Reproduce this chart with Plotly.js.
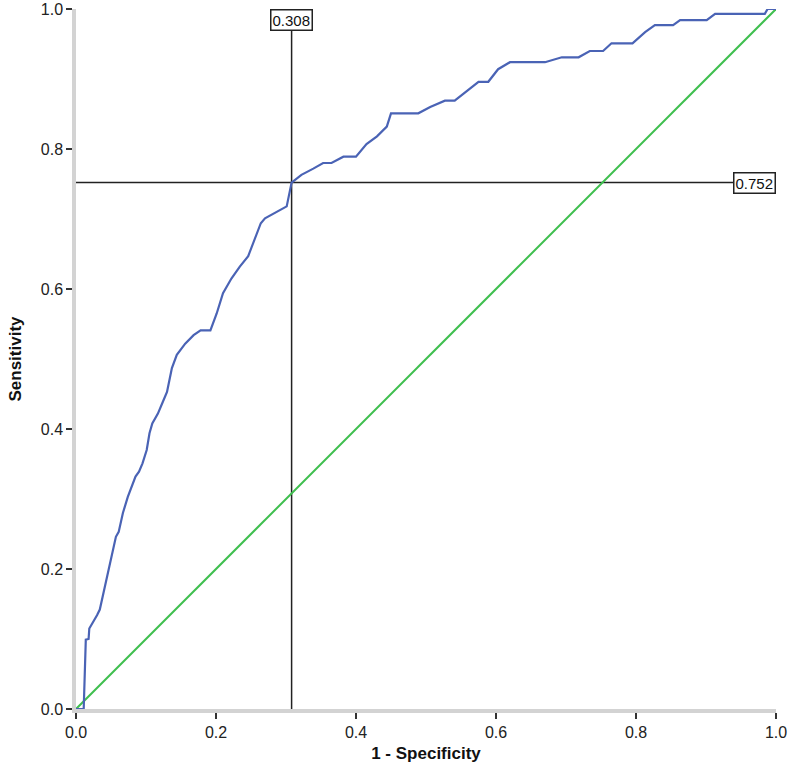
<!DOCTYPE html>
<html>
<head>
<meta charset="utf-8">
<script src="https://cdn.plot.ly/plotly-3.0.1.min.js"></script>
<style>
  html, body { margin: 0; padding: 0; background: #fff; }
  #chart { width: 788px; height: 772px; }
</style>
</head>
<body>
<div id="chart"></div>
<script>
// ROC curve
const fpr = [0, 0.011, 0.014, 0.018, 0.019, 0.024, 0.030, 0.034, 0.038, 0.043, 0.048, 0.052, 0.057,
  0.061, 0.067, 0.074, 0.079, 0.085, 0.090, 0.095, 0.101, 0.105, 0.109, 0.117, 0.125, 0.130,
  0.137, 0.144, 0.156, 0.168, 0.178, 0.192, 0.201, 0.210, 0.222, 0.234, 0.246, 0.253, 0.264,
  0.270, 0.284, 0.301, 0.308, 0.322, 0.339, 0.353, 0.365, 0.382, 0.400, 0.415, 0.430, 0.444,
  0.450, 0.489, 0.506, 0.527, 0.541, 0.560, 0.575, 0.589, 0.603, 0.620, 0.670, 0.694, 0.718,
  0.734, 0.753, 0.765, 0.795, 0.813, 0.827, 0.853, 0.863, 0.901, 0.913, 0.984, 0.988, 1.0];
const tpr = [0, 0, 0.099, 0.100, 0.115, 0.123, 0.134, 0.142, 0.160, 0.184, 0.208, 0.227, 0.246,
  0.253, 0.280, 0.303, 0.315, 0.332, 0.339, 0.351, 0.370, 0.394, 0.408, 0.422, 0.441, 0.453,
  0.487, 0.506, 0.522, 0.534, 0.541, 0.541, 0.565, 0.594, 0.615, 0.632, 0.647, 0.665, 0.694,
  0.701, 0.709, 0.718, 0.752, 0.763, 0.772, 0.780, 0.780, 0.789, 0.789, 0.807, 0.818, 0.832,
  0.851, 0.851, 0.860, 0.869, 0.869, 0.884, 0.896, 0.896, 0.914, 0.924, 0.924, 0.931, 0.931,
  0.940, 0.940, 0.951, 0.951, 0.967, 0.977, 0.977, 0.984, 0.984, 0.993, 0.993, 1.0, 1.0];

const diagX = [0, 1];
const diagY = [0, 1];

const cutX = 0.308;   // 1 - specificity at cut-off
const cutY = 0.752;   // sensitivity at cut-off

const tickVals = [0, 0.2, 0.4, 0.6, 0.8, 1.0];
const tickText = ['0.0', '0.2', '0.4', '0.6', '0.8', '1.0'];

const fontFam = 'Liberation Sans, Arial, sans-serif';

const traces = [
  {
    x: [0, 1], y: [cutY, cutY],
    type: 'scatter', mode: 'lines',
    line: { color: '#222', width: 1.5 },
    hoverinfo: 'skip'
  },
  {
    x: [cutX, cutX], y: [0, 1],
    type: 'scatter', mode: 'lines',
    line: { color: '#222', width: 1.5 },
    hoverinfo: 'skip'
  },
  {
    x: diagX, y: diagY,
    type: 'scatter', mode: 'lines',
    line: { color: '#3fbf4f', width: 2 }
  },
  {
    x: fpr, y: tpr,
    type: 'scatter', mode: 'lines',
    line: { color: '#4a63b5', width: 2.2 }
  }
];

const boxStyle = {
  showarrow: false,
  bgcolor: '#fff',
  bordercolor: '#222',
  borderwidth: 1.5,
  borderpad: 1,
  font: { family: fontFam, size: 15, color: '#111' }
};

const axisBase = {
  range: [0, 1],
  tickvals: tickVals,
  ticktext: tickText,
  showgrid: false,
  zeroline: false,
  showline: true,
  linecolor: '#d3d3d3',
  linewidth: 3.5,
  ticks: 'outside',
  ticklen: 6,
  tickwidth: 1.5,
  tickcolor: '#333',
  tickfont: { family: fontFam, size: 16, color: '#222' }
};

Plotly.newPlot('chart', traces, {
  width: 788,
  height: 772,
  showlegend: false,
  paper_bgcolor: '#fff',
  plot_bgcolor: '#fff',
  margin: { l: 76, r: 12, t: 9, b: 63 },
  xaxis: Object.assign({}, axisBase, {
    title: {
      text: '1 - Specificity',
      standoff: 8,
      font: { family: fontFam, size: 17, color: '#111', weight: 'bold' }
    }
  }),
  yaxis: Object.assign({}, axisBase, {
    title: {
      text: 'Sensitivity',
      standoff: 16,
      font: { family: fontFam, size: 17, color: '#111', weight: 'bold' }
    }
  }),
  annotations: [
    Object.assign({}, boxStyle, {
      x: cutX, y: 1, xref: 'x', yref: 'y',
      xanchor: 'center', yanchor: 'top',
      text: cutX.toFixed(3)
    }),
    Object.assign({}, boxStyle, {
      x: 1, y: cutY, xref: 'x', yref: 'y',
      xanchor: 'right', yanchor: 'middle',
      text: cutY.toFixed(3)
    })
  ]
}, { displayModeBar: false });
</script>
</body>
</html>
